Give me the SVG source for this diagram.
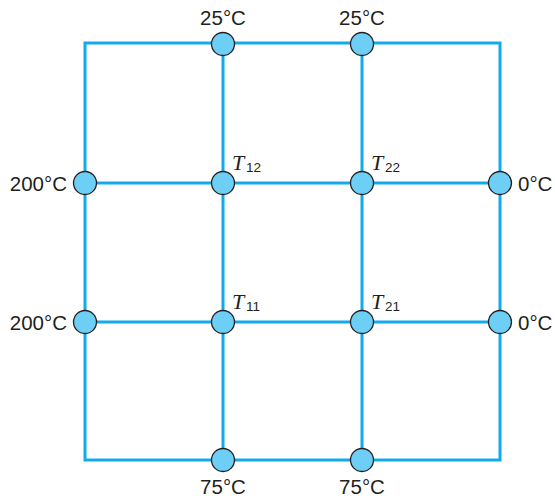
<svg xmlns="http://www.w3.org/2000/svg" width="555" height="498" viewBox="0 0 555 498">
<style>
.ln{stroke:#12aaec;stroke-width:3;fill:none}
.nd{fill:#6dcff6;stroke:#231f20;stroke-width:1.3}
.lb{font-family:"Liberation Sans",Arial,sans-serif;font-size:20.5px;fill:#231f20}
.t{font-family:"Liberation Serif","Times New Roman",serif;font-style:italic;font-size:22px;fill:#231f20}
.s{font-family:"Liberation Sans",Arial,sans-serif;font-size:13.5px;fill:#231f20}
</style>
<rect width="555" height="498" fill="#fff"/>
<g id="connectors">
<rect class="ln" x="85" y="43" width="415" height="417"/>
<line class="ln" x1="223" y1="43" x2="223" y2="460"/>
<line class="ln" x1="362" y1="43" x2="362" y2="460"/>
<line class="ln" x1="85" y1="183" x2="500" y2="183"/>
<line class="ln" x1="85" y1="322" x2="500" y2="322"/>
</g>
<g id="top1"><circle class="nd" cx="223" cy="44" r="11.5"/><text class="lb" x="223" y="25" text-anchor="middle">25°C</text></g>
<g id="top2"><circle class="nd" cx="362" cy="44" r="11.5"/><text class="lb" x="362" y="25" text-anchor="middle">25°C</text></g>
<g id="left2"><circle class="nd" cx="85" cy="183" r="11.5"/><text class="lb" x="67" y="190.5" text-anchor="end">200°C</text></g>
<g id="left1"><circle class="nd" cx="85" cy="322" r="11.5"/><text class="lb" x="67" y="329.5" text-anchor="end">200°C</text></g>
<g id="right2"><circle class="nd" cx="500" cy="183" r="11.5"/><text class="lb" x="518" y="190.5">0°C</text></g>
<g id="right1"><circle class="nd" cx="500" cy="322" r="11.5"/><text class="lb" x="518" y="329.5">0°C</text></g>
<g id="bot1"><circle class="nd" cx="223" cy="460" r="11.5"/><text class="lb" x="223" y="494" text-anchor="middle">75°C</text></g>
<g id="bot2"><circle class="nd" cx="362" cy="460" r="11.5"/><text class="lb" x="362" y="494" text-anchor="middle">75°C</text></g>
<g id="T12"><circle class="nd" cx="223" cy="183" r="11.5"/><text class="t" x="232" y="170">T</text><text class="s" x="246" y="172">12</text></g>
<g id="T22"><circle class="nd" cx="362" cy="183" r="11.5"/><text class="t" x="371" y="170">T</text><text class="s" x="385" y="172">22</text></g>
<g id="T11"><circle class="nd" cx="223" cy="322" r="11.5"/><text class="t" x="232" y="309">T</text><text class="s" x="246" y="311">11</text></g>
<g id="T21"><circle class="nd" cx="362" cy="322" r="11.5"/><text class="t" x="371" y="309">T</text><text class="s" x="385" y="311">21</text></g>
</svg>
